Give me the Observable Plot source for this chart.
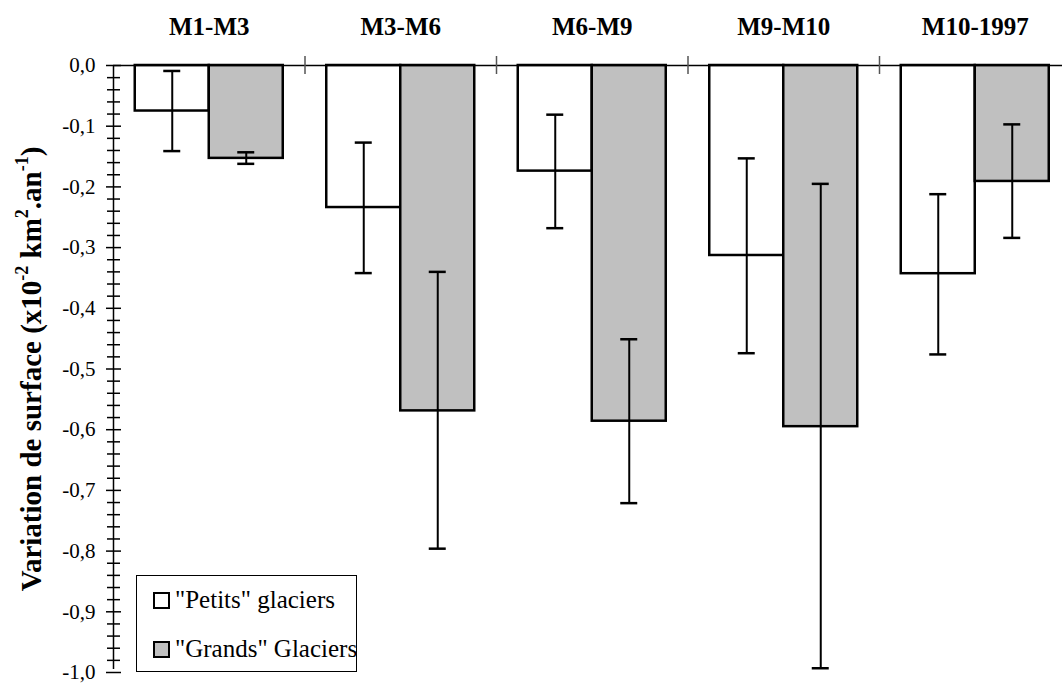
<!DOCTYPE html>
<html>
<head>
<meta charset="utf-8">
<script src="https://cdn.jsdelivr.net/npm/d3@7"></script>
<script src="https://cdn.jsdelivr.net/npm/@observablehq/plot@0.6"></script>
<style>
  html, body { margin: 0; padding: 0; background: white; overflow: hidden; }
  #wrap { position: relative; width: 1062px; height: 683px; font-family: "Liberation Serif", "Times New Roman", serif; }
  #ylabel { position: absolute; left: 31px; top: 369px; transform: translate(-50%, -50%) rotate(-90deg); white-space: nowrap; font-weight: bold; font-size: 29px; color: #000; }
  #ylabel sup { font-size: 0.62em; position: relative; top: -0.1em; }
  #legend { position: absolute; left: 136px; top: 575px; width: 221px; height: 97px; border: 1px solid #000; background: #fff; box-sizing: border-box; }
  .item { position: absolute; left: 16px; display: flex; align-items: center; font-size: 25px; line-height: 28px; height: 28px; color: #000; white-space: nowrap; }
  .sw { width: 13px; height: 13px; border: 2px solid #000; margin-right: 5px; }
</style>
</head>
<body>
<div id="wrap"></div>
<script>
// ---- data ----
const categories = ["M1-M3", "M3-M6", "M6-M9", "M9-M10", "M10-1997"];
const seriesNames = ["\"Petits\" glaciers", "\"Grands\" Glaciers"];
const petits     = [-0.075, -0.234, -0.174, -0.313, -0.343];
const petitsLow  = [-0.141, -0.342, -0.268, -0.474, -0.476];
const petitsHigh = [-0.009, -0.127, -0.081, -0.153, -0.212];
const grands     = [-0.153, -0.569, -0.586, -0.595, -0.191];
const grandsLow  = [-0.162, -0.796, -0.721, -0.993, -0.284];
const grandsHigh = [-0.143, -0.340, -0.451, -0.195, -0.097];
const majorTicks = [0, -0.1, -0.2, -0.3, -0.4, -0.5, -0.6, -0.7, -0.8, -0.9, -1.0];
const minorTicks = [-0.02, -0.04, -0.06, -0.08, -0.12, -0.14, -0.16, -0.18, -0.22, -0.24, -0.26, -0.28,
  -0.32, -0.34, -0.36, -0.38, -0.42, -0.44, -0.46, -0.48, -0.52, -0.54, -0.56, -0.58,
  -0.62, -0.64, -0.66, -0.68, -0.72, -0.74, -0.76, -0.78, -0.82, -0.84, -0.86, -0.88,
  -0.92, -0.94, -0.96, -0.98];
const fills = ["#ffffff", "#c0c0c0"];

// ---- tables ----
const rowsP = categories.map((c, i) => ({cat: c, v: petits[i], lo: petitsLow[i], hi: petitsHigh[i]}));
const rowsG = categories.map((c, i) => ({cat: c, v: grands[i], lo: grandsLow[i], hi: grandsHigh[i]}));

// ---- layout ----
const W = 1062, H = 683;
const x0 = 113, x1 = 1070.5;
const bw = (x1 - x0) / categories.length;
const pad = 21.75, barW = 74, capW = 17;
const off = pad + barW / 2 - bw / 2; // center offset of first bar from band center

const fmt = d => (d === 0 ? "0,0" : d.toFixed(1).replace(".", ","));
const serif = "'Liberation Serif', 'Times New Roman', serif";

const barStyle = {stroke: "#000", strokeWidth: 2.5};

function errMarks(rows, k) {
  const cx = pad + barW / 2 + k * barW; // center from band start
  const capL = cx - capW / 2, capR = bw - cx - capW / 2;
  return [
    Plot.ruleX(rows, {x: "cat", y1: "lo", y2: "hi", dx: off + k * barW, stroke: "#000", strokeWidth: 2}),
    Plot.tickY(rows, {x: "cat", y: "lo", insetLeft: capL, insetRight: capR, stroke: "#000", strokeWidth: 2.5}),
    Plot.tickY(rows, {x: "cat", y: "hi", insetLeft: capL, insetRight: capR, stroke: "#000", strokeWidth: 2.5})
  ];
}

const chart = Plot.plot({
  width: W,
  height: H,
  marginLeft: x0,
  marginRight: 0,
  marginTop: 65,
  marginBottom: 11,
  style: {fontFamily: serif, color: "#000", background: "transparent"},
  x: {domain: categories, range: [x0, x1], padding: 0, round: false, axis: null},
  y: {domain: [-1, 0], axis: null},
  marks: [
    // bars
    Plot.barY(rowsP, {x: "cat", y: "v", fill: fills[0], insetLeft: pad, insetRight: bw - pad - barW, ...barStyle}),
    Plot.barY(rowsG, {x: "cat", y: "v", fill: fills[1], insetLeft: pad + barW, insetRight: bw - pad - 2 * barW, ...barStyle}),
    // zero line (top axis)
    Plot.ruleY([0], {stroke: "#000", strokeWidth: 1.5}),
    // category separators on the top axis
    Plot.ruleX(categories.slice(1), {x: d => d, y1: 0, y2: 0, dx: -bw / 2, insetTop: -9, insetBottom: -9, stroke: "#555", strokeWidth: 1.5}),
    // y axis line
    Plot.ruleX([categories[0]], {x: d => d, y1: -1, y2: 0, dx: -bw / 2, insetTop: -3, stroke: "#000", strokeWidth: 1.5}),
    // y axis ticks (crossing the axis)
    Plot.axisY({ticks: majorTicks, tickSize: 15, dx: 8, tickFormat: () => "", label: null, strokeWidth: 1.5}),
    Plot.axisY({ticks: minorTicks, tickSize: 13, dx: 7, tickFormat: () => "", label: null, strokeWidth: 1.5}),
    Plot.axisY({ticks: majorTicks, tickSize: 0, tickPadding: 18, tickFormat: fmt, label: null, fontSize: 21, fontFamily: serif}),
    // category labels on top
    Plot.axisX({anchor: "top", tickSize: 0, tickPadding: 31, label: null, fontSize: 25, fontWeight: "bold", fontFamily: serif}),
    // error bars
    ...errMarks(rowsP, 0),
    ...errMarks(rowsG, 1)
  ]
});

const wrap = document.getElementById("wrap");
wrap.appendChild(chart);

const yl = document.createElement("div");
yl.id = "ylabel";
yl.innerHTML = "Variation de surface (x10<sup>-2</sup> km<sup>2</sup>.an<sup>-1</sup>)";
wrap.appendChild(yl);

const lg = document.createElement("div");
lg.id = "legend";
seriesNames.forEach((name, i) => {
  const it = document.createElement("div");
  it.className = "item";
  it.style.top = (i === 0 ? 10 : 59) + "px";
  const sw = document.createElement("div");
  sw.className = "sw";
  sw.style.background = fills[i];
  const t = document.createElement("span");
  t.textContent = name;
  it.appendChild(sw);
  it.appendChild(t);
  lg.appendChild(it);
});
wrap.appendChild(lg);
</script>
</body>
</html>
